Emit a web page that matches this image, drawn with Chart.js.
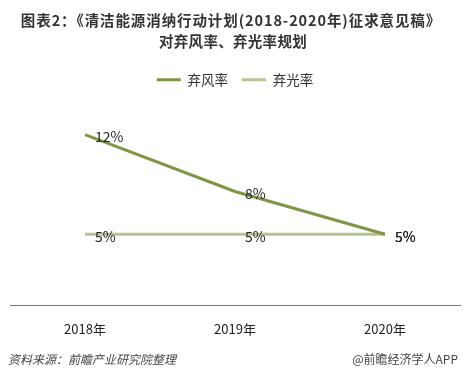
<!DOCTYPE html>
<html><head><meta charset="utf-8">
<script src="https://cdn.jsdelivr.net/npm/chart.js@4/dist/chart.umd.min.js"></script>
<style>html,body{margin:0;padding:0;background:#fff;}#wrap{width:466px;height:380px;position:relative;}</style>
</head><body><div id="wrap"><canvas id="c" width="466" height="380"></canvas></div>
<script>
const categories = ['2018年', '2019年', '2020年'];
const windCurtail = [12, 8, 5];
const solarCurtail = [5, 5, 5];
const seriesNames = ['弃风率', '弃光率'];
const titleLines = ['图表2：《清洁能源消纳行动计划(2018-2020年)征求意见稿》', '对弃风率、弃光率规划'];
const sourceText = '资料来源：前瞻产业研究院整理';
const brandText = '@前瞻经济学人APP';

const FONT = '"Noto Sans CJK SC", "Microsoft YaHei", sans-serif';
const darkGreen = '#7f9647';
const lightGreen = '#b4c594';

const labelPlugin = {
  id: 'labels',
  afterDatasetsDraw(chart) {
    const ctx = chart.ctx;
    ctx.save();
    ctx.font = '14px ' + FONT;
    ctx.fillStyle = '#222';
    ctx.textAlign = 'left';
    ctx.textBaseline = 'middle';
    chart.data.datasets.forEach((ds, i) => {
      const meta = chart.getDatasetMeta(i);
      meta.data.forEach((pt, j) => {
        ctx.fillText(ds.data[j] + '%', pt.x + 10, pt.y + 2);
      });
    });
    ctx.restore();
  },
  afterDraw(chart) {
    const ctx = chart.ctx;
    ctx.save();
    // title drawn manually with letter spacing
    ctx.fillStyle = '#333';
    ctx.textBaseline = 'middle';
    ctx.textAlign = 'center';
    ctx.font = 'bold 14.5px ' + FONT;
    ctx.letterSpacing = '0.9px';
    ctx.fillText(titleLines[0], 231, 20);
    ctx.letterSpacing = '0.3px';
    ctx.fillText(titleLines[1], 233, 41);
    ctx.letterSpacing = '0px';
    ctx.fillStyle = '#444';
    ctx.font = 'italic 12px ' + FONT;
    ctx.textAlign = 'left';
    ctx.fillText(sourceText, 8, 359);
    ctx.font = '12px ' + FONT;
    ctx.textAlign = 'right';
    ctx.fillText(brandText, 458, 359);
    ctx.restore();
  }
};

new Chart(document.getElementById('c'), {
  type: 'line',
  data: {
    labels: categories,
    datasets: [
      { label: seriesNames[0], data: windCurtail, borderColor: darkGreen, backgroundColor: darkGreen, borderWidth: 3, pointRadius: 0, tension: 0 },
      { label: seriesNames[1], data: solarCurtail, borderColor: lightGreen, backgroundColor: lightGreen, borderWidth: 3, pointRadius: 0, tension: 0 }
    ]
  },
  options: {
    responsive: false,
    animation: false,
    layout: { padding: { left: 10, right: 6, top: 0, bottom: 35 } },
    plugins: {
      title: {
        display: true,
        text: titleLines,
        color: 'rgba(0,0,0,0)',
        font: { family: FONT, size: 14.5, weight: 'bold', lineHeight: 1.45 },
        padding: { top: 9, bottom: 8 }
      },
      legend: {
        display: true,
        labels: {
          color: '#333',
          font: { family: FONT, size: 13.5 },
          boxWidth: 24,
          boxHeight: 3,
          padding: 14,
          generateLabels(chart) {
            return chart.data.datasets.map((ds, i) => ({
              text: ds.label, fillStyle: ds.borderColor, strokeStyle: ds.borderColor,
              lineWidth: 0, datasetIndex: i, hidden: false, fontColor: '#333'
            }));
          }
        }
      },
      tooltip: { enabled: false }
    },
    scales: {
      x: {
        offset: true,
        grid: { display: false },
        border: { display: true, color: '#777', width: 1 },
        ticks: { color: '#222', font: { family: FONT, size: 13 }, padding: 8 }
      },
      y: { display: false, min: 0, max: 14.67 }
    }
  },
  plugins: [labelPlugin]
});
</script></body></html>
